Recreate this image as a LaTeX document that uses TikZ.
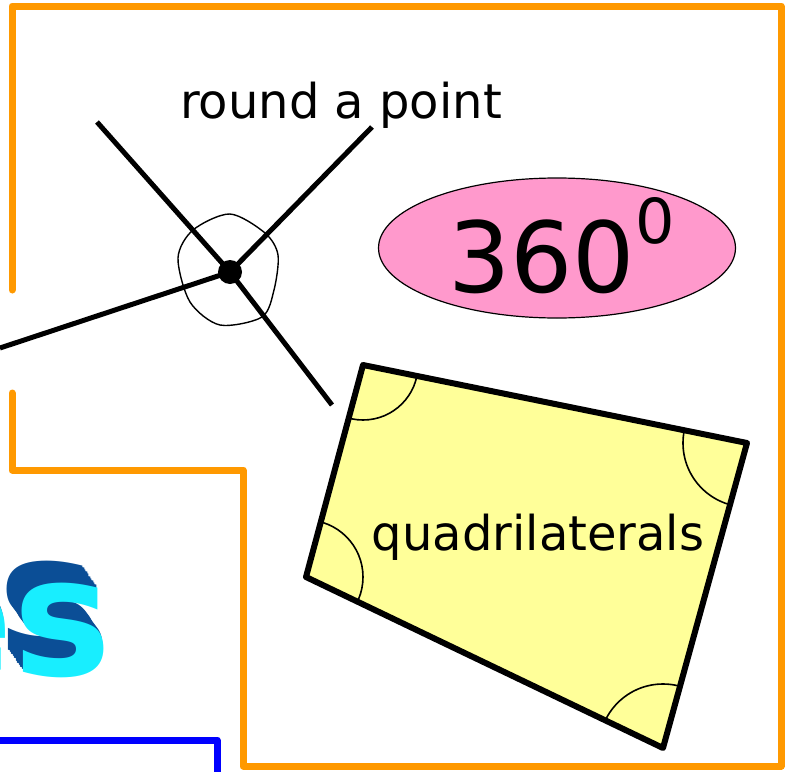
\documentclass[tikz,border=0pt]{standalone}
\usepackage{fontspec}
\setmainfont{DejaVu Sans}
\usetikzlibrary{shapes.geometric,calc}

\definecolor{frameorange}{HTML}{FF9900}
\definecolor{frameblue}{HTML}{0000FF}
\definecolor{ellpink}{HTML}{FF99CC}
\definecolor{quadyellow}{HTML}{FFFF99}
\definecolor{wordcyan}{HTML}{18EEFF}
\definecolor{worddeep}{HTML}{0B4E96}

\tikzset{
  frame/.style={draw=frameorange, line width=7pt, line cap=round, line join=round},
  bluebar/.style={draw=frameblue, line width=7pt, line join=round},
  ray/.style={line width=5pt},
  blob/.style={line width=1.4pt},
  quadface/.style={fill=quadyellow},
  quadedge/.style={line width=6pt, line join=round},
  angmark/.style={line width=1.6pt},
  label/.style={font=\fontsize{48}{52}\selectfont, inner sep=0pt},
  word/.style={font=\fontsize{165}{170}\bfseries\selectfont, inner sep=0pt, anchor=base east}
}

\begin{document}
\begin{tikzpicture}[x=1pt,y=-1pt]
  \useasboundingbox (0,0) rectangle (787,771);

  % frames
  \draw[frame] (12,290) -- (12,6) -- (781,6) -- (781,766) -- (243,766)
    -- (243,470) -- (12,470) -- (12,393);
  \draw[bluebar] (0,740) -- (217,740) -- (217,780);

  % 3D word, cut at the left edge
  \foreach \d in {10,9,...,1} {
    \node[word, text=worddeep] (es\d) at (112-1.5*\d, 675-2.2*\d) {es};
  }
  \node[word, text=wordcyan] (es0) at (112,675) {es};

  % angles round a point
  \coordinate (P) at (230,272);
  \coordinate (ul) at (97,122);
  \coordinate (ur) at (372,127);
  \coordinate (lt) at (0,348);
  \coordinate (lr) at (332,405);
  \draw[blob] plot[smooth cycle] coordinates {(230,214) (265,233) (278,255)
    (274,290) (262,317) (220,325) (190,302) (178,258) (193,230)};
  \draw[ray] (P) -- (ul);
  \draw[ray] (P) -- (ur);
  \draw[ray] (P) -- (lt);
  \draw[ray] (P) -- (lr);
  \fill (P) circle (12);
  \node[label, anchor=base] (pt) at (341,118) {round a point};

  % full turn
  \node[ellipse, draw, fill=ellpink, line width=1.2pt, minimum width=357pt,
    minimum height=140pt] (deg) at (557,248) {};
  \node[font=\fontsize{98}{104}\selectfont, inner sep=0pt, anchor=base west]
    (degtxt) at (448,292) {360\raisebox{0.5em}{\fontsize{62}{62}\selectfont 0}};

  % quadrilateral
  \coordinate (A) at (363,365);
  \coordinate (B) at (747,443);
  \coordinate (C) at (663,748);
  \coordinate (D) at (306,577);
  \fill[quadface] (A) -- (B) -- (C) -- (D) -- cycle;
  \begin{scope}
    \clip (A) -- (B) -- (C) -- (D) -- cycle;
    \draw[angmark] (A) circle (55);
    \draw[angmark] (B) circle (64);
    \draw[angmark] (C) circle (64);
    \draw[angmark] (D) circle (57);
  \end{scope}
  \draw[quadedge] (A) -- (B) -- (C) -- (D) -- cycle;
  \node[label, anchor=base] (quad) at (538,550) {quadrilaterals};
\end{tikzpicture}
\end{document}
